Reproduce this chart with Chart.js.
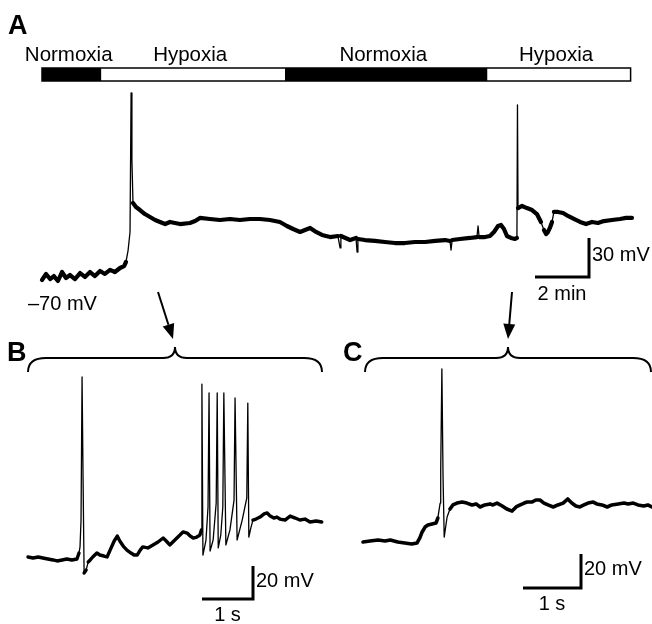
<!DOCTYPE html>
<html>
<head>
<meta charset="utf-8">
<script src="https://cdn.jsdelivr.net/npm/chart.js@4.4.0/dist/chart.umd.min.js"></script>
<style>
  html, body { margin: 0; padding: 0; background: #fff; }
  #wrap { width: 652px; height: 624px; }
</style>
</head>
<body>
<div id="wrap"><canvas id="traces" width="652" height="624"></canvas></div>
<script>
// Panel A - whole recording (time in min, membrane potential in mV)
const timeA = [0,0.15,0.30,0.44,0.59,0.74,0.89,1.04,1.22,1.41,
  1.59,1.78,1.96,2.15,2.33,2.52,2.70,2.89,3.04,3.11,
  3.19,3.26,3.30,3.33,3.37,3.48,3.63,3.81,4.00,4.19,
  4.37,4.56,4.74,5.11,5.48,5.67,5.85,6.22,6.59,6.96,
  7.33,7.70,8.07,8.44,8.81,9.07,9.30,9.56,9.74,9.93,
  10.15,10.37,10.67,10.96,11.04,11.07,11.41,11.63,11.67,11.70,
  11.96,12.33,12.70,13.07,13.44,13.81,14.19,14.56,14.93,15.11,
  15.15,15.19,15.48,15.85,16.11,16.15,16.19,16.41,16.59,16.74,
  16.89,17.00,17.11,17.22,17.37,17.52,17.59,17.61,17.63,17.78,
  17.96,18.15,18.33,18.48,18.59,18.67,18.74,18.81,18.89,18.96,
  19.11,19.30,19.48,19.70,19.93,20.15,20.37,20.59,20.81,21.11,
  21.41,21.63,21.85];
const vmA = [-71.5,-66.9,-70.8,-68.5,-72.3,-65.4,-70,-67.7,-70.8,-66.2,
  -69.2,-65.4,-68.5,-64.6,-66.9,-63.8,-65.4,-62.3,-60.8,-57.7,
  -48.5,-34.6,72.3,20.8,-12.3,-15.4,-17.7,-20.8,-23.1,-25.4,
  -26.9,-28.5,-26.9,-28.5,-27.7,-26.2,-23.8,-24.6,-25.4,-24.6,
  -25.4,-24.6,-24.6,-25.4,-26.9,-30.0,-32.3,-34.6,-33.1,-31.5,
  -34.6,-36.9,-38.5,-37.7,-46.9,-37.7,-40.8,-39.2,-50.0,-40.0,
  -40.8,-41.5,-42.3,-43.1,-43.1,-42.3,-42.3,-41.5,-40.8,-41.5,
  -48.5,-40.8,-40.0,-39.2,-38.5,-30.0,-38.5,-38.5,-37.7,-34.6,
  -30.0,-29.2,-32.3,-37.7,-39.2,-40.0,-39.2,63.1,-16.2,-14.6,
  -16.2,-17.7,-20.8,-26.9,-33.1,-36.2,-34.6,-31.5,-26.9,-19.2,
  -19.2,-20.0,-22.3,-24.6,-26.9,-28.5,-26.9,-27.7,-26.2,-25.4,
  -24.6,-23.8,-23.8];

// protocol bar (min)
const conditions = ['Normoxia', 'Hypoxia', 'Normoxia', 'Hypoxia'];
const condStart = [0, 2.2, 9.0, 16.5];
const condEnd = [2.2, 9.0, 16.5, 21.8];

// Panel B - first hypoxia onset (s, mV)
const timeB = [0,0.10,0.20,0.29,0.39,0.49,0.57,0.67,0.76,0.86,
  0.96,1.00,1.02,1.04,1.06,1.08,1.10,1.14,1.18,1.22,
  1.27,1.35,1.41,1.49,1.55,1.61,1.69,1.75,1.80,1.88,
  1.94,2.02,2.08,2.14,2.20,2.25,2.35,2.45,2.55,2.65,
  2.71,2.78,2.88,2.98,3.04,3.12,3.18,3.24,3.31,3.37,
  3.40,3.41,3.43,3.49,3.53,3.55,3.57,3.63,3.69,3.71,
  3.73,3.78,3.82,3.84,3.88,3.96,4.04,4.06,4.10,4.20,
  4.29,4.31,4.33,4.37,4.41,4.47,4.55,4.63,4.69,4.75,
  4.82,4.88,4.94,5.04,5.14,5.24,5.33,5.43,5.53,5.65,
  5.76];
const vmB = [-70,-70.6,-70,-70.6,-71.2,-71.8,-72.4,-71.8,-71.2,-71.8,
  -71.2,-67.6,-63.9,-47.6,39.1,-23.3,-79.7,-77.9,-73.0,-71.8,
  -70,-67.6,-68.8,-69.4,-70,-65.8,-60.3,-57.3,-60.3,-63.9,
  -65.8,-67.6,-68.8,-68.8,-65.8,-63.9,-64.5,-62.7,-60.9,-58.5,
  -60.3,-62.7,-59.7,-56.7,-54.8,-55.5,-57.3,-58.5,-57.9,-56.7,
  -53.6,34.8,-68.8,-59.7,-39.7,29.4,-66.4,-59.7,-37.3,29.4,
  -64.5,-56.7,-39.7,29.4,-62.7,-53.6,-35.5,26.4,-59.7,-47.6,
  -34.2,23.3,-57.9,-52.4,-47.6,-47.0,-45.8,-43.9,-43.3,-45.2,
  -46.4,-45.8,-47.0,-47.6,-45.2,-46.4,-47.6,-47.0,-48.8,-48.2,
  -48.8];

// Panel C - second hypoxia onset (s, mV)
const timeC = [0,0.12,0.26,0.38,0.47,0.60,0.72,0.84,0.93,0.98,
  1.02,1.07,1.12,1.19,1.26,1.29,1.33,1.34,1.36,1.38,
  1.40,1.43,1.45,1.50,1.55,1.62,1.71,1.79,1.88,1.95,
  2.02,2.10,2.19,2.24,2.31,2.40,2.48,2.57,2.64,2.71,
  2.78,2.83,2.91,2.98,3.05,3.12,3.19,3.28,3.36,3.45,
  3.53,3.60,3.67,3.74,3.81,3.88,3.97,4.03,4.12,4.21,
  4.29,4.40,4.50,4.57,4.66,4.74,4.84,4.91,4.98];
const vmC = [-40,-39.4,-38.8,-39.4,-38.8,-40,-40.6,-41.2,-40.6,-37.6,
  -34.1,-31.2,-30.0,-29.4,-28.8,-25.9,-17.1,2.4,61.8,-1.8,
  -37.1,-30.0,-25.3,-20.6,-18.2,-17.1,-16.5,-17.1,-18.2,-17.6,
  -19.4,-18.2,-17.6,-18.2,-17.1,-18.8,-20.6,-21.8,-19.4,-18.2,
  -17.1,-16.5,-16.5,-15.3,-15.3,-17.1,-18.2,-19.4,-18.2,-17.1,
  -14.7,-17.1,-18.8,-19.4,-18.2,-17.1,-16.5,-17.6,-18.2,-19.4,
  -18.2,-17.6,-17.1,-17.6,-17.1,-18.2,-18.8,-18.2,-19.4];

// scale bar sizes: A, B, C
const scaleTime = [2, 1, 1];
const scaleVm = [30, 20, 20];
const scaleTimeLabels = ['2 min', '1 s', '1 s'];
const scaleVmLabels = ['30 mV', '20 mV', '20 mV'];

// ---- layout (pixels) ----
const W = 652, H = 624;
const panels = {
  A: { x0: 42, pxX: 27, y0: 278, v0: -70, pxY: 1.3, thick: 4.2 },
  B: { x0: 28, pxX: 51, y0: 557, v0: -70, pxY: 1.65, thick: 3.4 },
  C: { x0: 363, pxX: 58, y0: 542, v0: -40, pxY: 1.7, thick: 3.6 }
};
const FONT = '"Liberation Sans", Arial, Helvetica, sans-serif';

function axisPair(name) {
  const p = panels[name];
  return {
    ['x' + name]: { type: 'linear', axis: 'x', display: false,
      min: -p.x0 / p.pxX, max: (W - p.x0) / p.pxX },
    ['y' + name]: { type: 'linear', axis: 'y', display: false,
      min: p.v0 - (H - p.y0) / p.pxY, max: p.v0 + p.y0 / p.pxY }
  };
}

function trace(name, times, values) {
  const thick = panels[name].thick;
  return {
    data: times.map((t, i) => ({ x: t, y: values[i] })),
    xAxisID: 'x' + name,
    yAxisID: 'y' + name,
    borderColor: '#000',
    borderWidth: thick,
    pointRadius: 0,
    tension: 0,
    borderJoinStyle: 'round',
    borderCapStyle: 'round',
    segment: {
      // spikes are drawn thin, the noisy baseline thick
      borderWidth: ctx => {
        const dx = Math.abs(ctx.p1.x - ctx.p0.x);
        const dy = Math.abs(ctx.p1.y - ctx.p0.y);
        return (dy > 6 && dy > 2.5 * dx) ? 1.3 : thick;
      }
    }
  };
}

function drawScaleBar(ctx, chart, name, idx, corner) {
  const sx = chart.scales['x' + name];
  const sy = chart.scales['y' + name];
  const w = Math.abs(sx.getPixelForValue(scaleTime[idx]) - sx.getPixelForValue(0));
  const h = Math.abs(sy.getPixelForValue(scaleVm[idx]) - sy.getPixelForValue(0));
  ctx.lineWidth = 3;
  ctx.lineCap = 'butt';
  ctx.lineJoin = 'miter';
  ctx.beginPath();
  ctx.moveTo(corner.x - w, corner.y);
  ctx.lineTo(corner.x, corner.y);
  ctx.lineTo(corner.x, corner.y - h);
  ctx.stroke();
  ctx.font = '20px ' + FONT;
  ctx.textAlign = 'left';
  ctx.fillText(scaleVmLabels[idx], corner.x + 3, corner.vmBase);
  ctx.textAlign = 'center';
  ctx.fillText(scaleTimeLabels[idx], corner.x - w / 2, corner.timeBase);
}

function drawBrace(ctx, x0, x1, yTip, yLine, yEnd) {
  const cx = (x0 + x1) / 2;
  ctx.lineWidth = 2;
  ctx.beginPath();
  ctx.moveTo(x0, yEnd);
  ctx.quadraticCurveTo(x0, yLine, x0 + 18, yLine);
  ctx.lineTo(cx - 12, yLine);
  ctx.quadraticCurveTo(cx, yLine, cx, yTip);
  ctx.quadraticCurveTo(cx, yLine, cx + 12, yLine);
  ctx.lineTo(x1 - 18, yLine);
  ctx.quadraticCurveTo(x1, yLine, x1, yEnd);
  ctx.stroke();
}

function drawArrow(ctx, x1, y1, x2, y2) {
  const ang = Math.atan2(y2 - y1, x2 - x1);
  const len = 15, half = 6;
  const bx = x2 - len * Math.cos(ang), by = y2 - len * Math.sin(ang);
  ctx.lineWidth = 2;
  ctx.beginPath();
  ctx.moveTo(x1, y1);
  ctx.lineTo(bx, by);
  ctx.stroke();
  ctx.beginPath();
  ctx.moveTo(x2, y2);
  ctx.lineTo(bx + half * Math.sin(ang), by - half * Math.cos(ang));
  ctx.lineTo(bx - half * Math.sin(ang), by + half * Math.cos(ang));
  ctx.closePath();
  ctx.fill();
}

const annotations = {
  id: 'annotations',
  afterDatasetsDraw(chart) {
    const ctx = chart.ctx;
    const xA = chart.scales.xA;
    ctx.save();
    ctx.fillStyle = '#000';
    ctx.strokeStyle = '#000';
    ctx.textBaseline = 'alphabetic';

    // panel letters
    ctx.font = 'bold 27px ' + FONT;
    ctx.textAlign = 'left';
    ctx.fillText('A', 8, 34);
    ctx.fillText('B', 7, 361);
    ctx.fillText('C', 343, 361);

    // protocol bar with condition names
    const barTop = 68, barH = 13;
    ctx.font = '20.5px ' + FONT;
    ctx.textAlign = 'center';
    conditions.forEach((c, i) => {
      const l = xA.getPixelForValue(condStart[i]);
      const r = xA.getPixelForValue(condEnd[i]);
      ctx.fillStyle = c === 'Normoxia' ? '#000' : '#fff';
      ctx.fillRect(l, barTop, r - l, barH);
      ctx.fillStyle = '#000';
      ctx.fillText(c, (l + r) / 2 - 3, 61);
    });
    ctx.lineWidth = 1.5;
    const bl = xA.getPixelForValue(condStart[0]);
    const br = xA.getPixelForValue(condEnd[condEnd.length - 1]);
    ctx.strokeRect(bl, barTop, br - bl, barH);

    ctx.font = '20px ' + FONT;
    ctx.textAlign = 'left';
    ctx.fillText('\u201370 mV', 28, 310);

    // scale bars
    drawScaleBar(ctx, chart, 'A', 0, { x: 589, y: 277, vmBase: 261, timeBase: 300 });
    drawScaleBar(ctx, chart, 'B', 1, { x: 253, y: 599, vmBase: 587, timeBase: 621 });
    drawScaleBar(ctx, chart, 'C', 2, { x: 581, y: 588, vmBase: 575, timeBase: 610 });

    // arrows and braces linking A to the expanded traces
    drawArrow(ctx, 158, 292, 173, 339);
    drawArrow(ctx, 512, 292, 508, 339);
    drawBrace(ctx, 28, 322, 347, 358, 372);
    drawBrace(ctx, 365, 651, 347, 358, 372);

    ctx.restore();
  }
};

new Chart(document.getElementById('traces'), {
  type: 'line',
  data: {
    datasets: [
      trace('A', timeA, vmA),
      trace('B', timeB, vmB),
      trace('C', timeC, vmC)
    ]
  },
  options: {
    responsive: false,
    animation: false,
    devicePixelRatio: 1,
    layout: { padding: 0 },
    plugins: { legend: { display: false }, tooltip: { enabled: false } },
    scales: Object.assign({}, axisPair('A'), axisPair('B'), axisPair('C'))
  },
  plugins: [annotations]
});
</script>
</body>
</html>
